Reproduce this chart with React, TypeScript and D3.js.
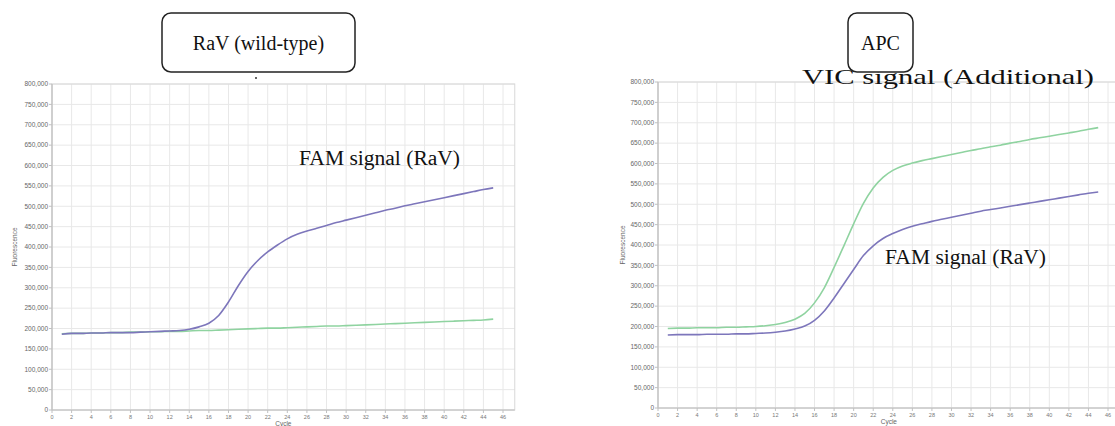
import React from "react";
import * as d3 from "d3";

const cycles = d3.range(1, 46);
const xTicks = d3.range(0, 47, 2);
const yTicks = d3.range(0, 800001, 50000);

// Left panel: RaV (wild-type)
const leftFam = [186,188,188,189,189,190,190,190,191,192,193,194,195,198,204,213,232,265,305,340,367,388,405,420,431,439,446,453,460,466,472,478,484,490,495,501,506,511,516,521,526,531,536,541,545];
const leftVic = [187,188,188,189,189,190,190,191,191,192,192,193,193,194,195,195,196,197,198,199,200,201,201,202,203,204,205,206,206,207,208,209,210,211,212,213,214,215,216,217,218,219,220,221,223];
// Right panel: APC
const rightFam = [179,180,180,180,181,181,181,182,182,183,184,186,189,194,201,215,238,270,305,340,374,398,416,428,438,446,452,458,463,468,473,478,483,487,491,495,499,503,507,511,515,519,523,527,530];
const rightVic = [195,196,196,197,197,197,198,198,199,200,202,205,210,218,232,258,295,345,398,452,502,540,566,583,594,601,607,612,617,622,627,632,636,641,645,650,654,659,663,667,671,675,679,684,688];

const FAM_COLOR = "#7d76bb";
const VIC_COLOR = "#8fd3a0";
const SERIF = "'Liberation Serif', 'DejaVu Serif', serif";
const SANS = "'Liberation Sans', Arial, sans-serif";

type Label = { text: string; x: number; y: number; size: number; width: number };
type Panel = {
  x0: number; x46: number; yTop: number; yBottom: number; xMax: number;
  title: string; box: [number, number, number, number];
  series: { values: number[]; color: string }[];
  labels: Label[];
  yLabelX: number;
};

const panels: Panel[] = [
  {
    x0: 52, x46: 503, yTop: 84, yBottom: 410, xMax: 47.2,
    title: "RaV (wild-type)", box: [162, 13, 355, 72],
    series: [{ values: leftVic, color: VIC_COLOR }, { values: leftFam, color: FAM_COLOR }],
    labels: [{ text: "FAM signal (RaV)", x: 299, y: 165, size: 20, width: 161 }],
    yLabelX: 15,
  },
  {
    x0: 658, x46: 1108, yTop: 82, yBottom: 408, xMax: 47.2,
    title: "APC", box: [848, 13, 913, 72],
    series: [{ values: rightFam, color: FAM_COLOR }, { values: rightVic, color: VIC_COLOR }],
    labels: [
      { text: "VIC signal (Additional)", x: 802, y: 84, size: 21, width: 292 },
      { text: "FAM signal (RaV)", x: 885, y: 264, size: 20, width: 161 },
    ],
    yLabelX: 623,
  },
];

const fmt = d3.format(",");

function PanelView({ p }: { p: Panel }) {
  const x = d3.scaleLinear().domain([0, 46]).range([p.x0, p.x46]);
  const y = d3.scaleLinear().domain([0, 800000]).range([p.yBottom, p.yTop]);
  const right = x(p.xMax);
  const line = d3
    .line<number>()
    .x((_, i) => x(cycles[i]))
    .y((v) => y(v * 1000))
    .curve(d3.curveMonotoneX);
  const [bx0, by0, bx1, by1] = p.box;
  return (
    <g>
      {xTicks.map((t) => (
        <line key={"gx" + t} x1={x(t)} x2={x(t)} y1={p.yTop} y2={p.yBottom} stroke="#e8e8e8" strokeWidth={1} />
      ))}
      {yTicks.map((t) => (
        <line key={"gy" + t} x1={p.x0} x2={right} y1={y(t)} y2={y(t)} stroke="#e8e8e8" strokeWidth={1} />
      ))}
      <rect x={p.x0} y={p.yTop} width={right - p.x0} height={p.yBottom - p.yTop} fill="none" stroke="#d8d8d8" strokeWidth={1} />
      <line x1={p.x0} x2={p.x0} y1={p.yTop} y2={p.yBottom} stroke="#c0c0c0" strokeWidth={1.2} />
      <line x1={p.x0} x2={right} y1={p.yBottom} y2={p.yBottom} stroke="#c0c0c0" strokeWidth={1.2} />
      {yTicks.map((t) => (
        <g key={"yt" + t}>
          <line x1={p.x0 - 3} x2={p.x0} y1={y(t)} y2={y(t)} stroke="#c0c0c0" />
          <text x={p.x0 - 4} y={y(t)} dy="0.35em" textAnchor="end" fontSize={6.5} fill="#666" fontFamily={SANS}>
            {fmt(t)}
          </text>
        </g>
      ))}
      {xTicks.map((t) => (
        <g key={"xt" + t}>
          <line x1={x(t)} x2={x(t)} y1={p.yBottom} y2={p.yBottom + 3} stroke="#c0c0c0" />
          <text x={x(t)} y={p.yBottom + 7.5} dy="0.35em" textAnchor="middle" fontSize={5.5} fill="#777" fontFamily={SANS}>
            {t}
          </text>
        </g>
      ))}
      <text x={(p.x0 + right) / 2} y={p.yBottom + 13.5} dy="0.35em" textAnchor="middle" fontSize={6.5} fill="#666" fontFamily={SANS}>
        Cycle
      </text>
      <text transform={`translate(${p.yLabelX},${(p.yTop + p.yBottom) / 2}) rotate(-90)`} textAnchor="middle" dy="0.35em" fontSize={6.5} fill="#666" fontFamily={SANS}>
        Fluorescence
      </text>
      {p.series.map((s, i) => (
        <path key={"s" + i} d={line(s.values) || ""} fill="none" stroke={s.color} strokeWidth={1.6} />
      ))}
      {p.labels.map((l, i) => (
        <text key={"l" + i} x={l.x} y={l.y} fontSize={l.size} fill="#111" fontFamily={SERIF} textLength={l.width} lengthAdjust="spacingAndGlyphs">
          {l.text}
        </text>
      ))}
      <rect x={bx0} y={by0} width={bx1 - bx0} height={by1 - by0} rx={9} ry={9} fill="#fff" stroke="#222" strokeWidth={1.5} />
      <text x={(bx0 + bx1) / 2} y={(by0 + by1) / 2} dy="0.35em" textAnchor="middle" fontSize={20} fill="#111" fontFamily={SERIF}>
        {p.title}
      </text>
    </g>
  );
}

export default function App() {
  return (
    <svg width={1115} height={426} style={{ position: "absolute", left: 0, top: 0, background: "#fff" }}>
      <rect x={0} y={0} width={1115} height={426} fill="#fff" />
      {panels.map((p, i) => (
        <PanelView key={i} p={p} />
      ))}
      <circle cx={256} cy={78} r={1} fill="#333" />
    </svg>
  );
}
